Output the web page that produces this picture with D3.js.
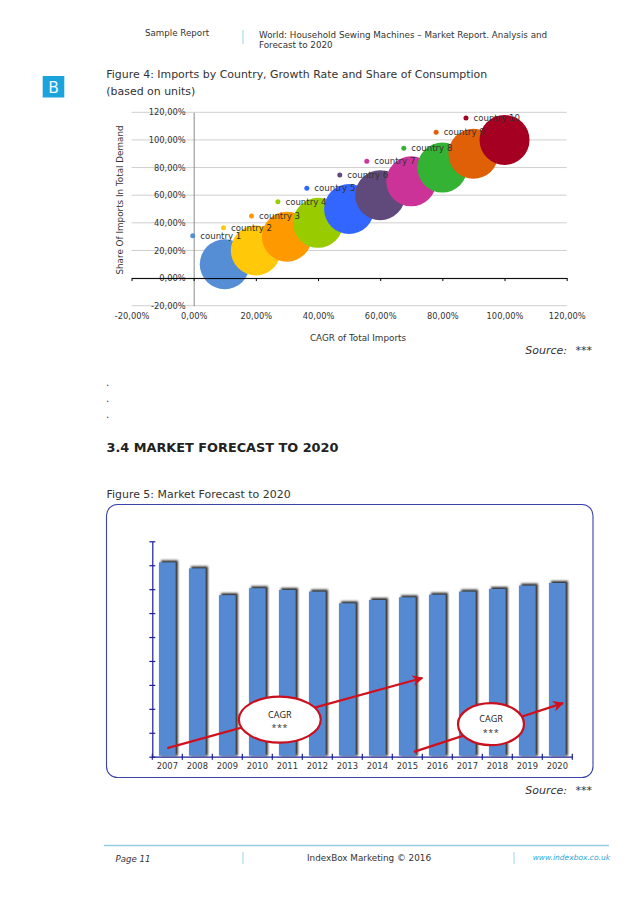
<!DOCTYPE html>
<html><head><meta charset="utf-8">
<script src="https://cdn.jsdelivr.net/npm/d3@7/dist/d3.min.js"></script>
<style>html,body{margin:0;background:#fff}svg{display:block}text{font-family:"DejaVu Sans",sans-serif;fill:#333}</style>
</head><body><svg id="c" width="638" height="903"></svg>
<script>
// Figure 4
const countries=["country 1","country 2","country 3","country 4","country 5","country 6","country 7","country 8","country 9","country 10"];
const cagr=[10,20,30,40,50,60,70,80,90,100];
const share=[10,20,30,40,50,60,70,80,90,100];
const colors=["#558ed5","#ffc90a","#ff9900","#99cc00","#3366ff","#604a7b","#cc3399","#33b233","#e06008","#a50021"];
const legendX=[-0.3,9.6,18.6,27.1,36.4,47,55.7,67.6,78,87.6];
const legendY=[30.6,36.4,45,55.2,65,74.7,84.6,94,105.5,115.8];
const xTicks=[-20,0,20,40,60,80,100,120];
const yTicks=[-20,0,20,40,60,80,100,120];
// Figure 5
const years=[2007,2008,2009,2010,2011,2012,2013,2014,2015,2016,2017,2018,2019,2020];
const volumes=[8.12,7.87,6.75,7.04,6.97,6.90,6.41,6.55,6.66,6.77,6.90,7.01,7.15,7.26];
const vTicks=[0,1,2,3,4,5,6,7,8,9];
const arrowYears=[[2007,2015.5],[2015.22,2020.19]];
const arrowVals=[[0.36,3.29],[0.2,2.24]];
const bubbleYears=[2010.75,2017.79];
const bubbleVals=[1.55,1.36];
const bubbleLabels=[["CAGR","***"],["CAGR","***"]];

const svg=d3.select("#c");
const defs=svg.append("defs");
const f=defs.append("filter").attr("id","sh").attr("x","-30%").attr("y","-5%").attr("width","170%").attr("height","110%");
f.append("feGaussianBlur").attr("stdDeviation",0.8);
defs.append("marker").attr("id","ah").attr("viewBox","0 0 10 10").attr("refX",9).attr("refY",5)
  .attr("markerWidth",5).attr("markerHeight",5).attr("orient","auto").attr("markerUnits","strokeWidth")
  .append("path").attr("d","M0,0L10,5L0,10L3,5Z").attr("fill","#d2101c");

function T(x,y,s,size,o={}){
  const t=svg.append("text").attr("x",x).attr("y",y).attr("font-size",size).text(s);
  if(o.anchor)t.attr("text-anchor",o.anchor);
  if(o.italic)t.attr("font-style","italic");
  if(o.bold)t.attr("font-weight","bold");
  if(o.fill)t.style("fill",o.fill);
  return t;
}
function V(x,y1,y2,c="#9fd3e4"){svg.append("line").attr("x1",x).attr("x2",x).attr("y1",y1).attr("y2",y2).attr("stroke",c);}

// page furniture
T(145,36,"Sample Report",8.7);
V(243,30,44);
T(259,38,"World: Household Sewing Machines – Market Report. Analysis and",8.75);
T(259,48,"Forecast to 2020",8.75);
svg.append("rect").attr("x",42.7).attr("y",76).attr("width",21.6).attr("height",21.5).attr("fill","#1ba3dd");
T(53.5,93.3,"B",15.5,{anchor:"middle",fill:"#eef9fd"});
T(106.3,78.3,"Figure 4: Imports by Country, Growth Rate and Share of Consumption",10.95);
T(106.3,95,"(based on units)",10.95);

// scatter
const x=d3.scaleLinear().domain([-20,120]).range([131.5,566.7]);
const y=d3.scaleLinear().domain([-20,120]).range([305.7,112.3]);
const fmt=v=>d3.format(".2f")(v).replace(".",",").replace("−","-")+"%";
const gy=svg.append("g").attr("transform",`translate(${x(0)},0)`)
  .call(d3.axisLeft(y).tickValues(yTicks).tickFormat(fmt).tickSize(0).tickPadding(8));
gy.selectAll("text").attr("font-size",8.3).style("font-family",'"DejaVu Sans"');
gy.select(".domain").attr("stroke","#8a8a8a");
svg.append("g").selectAll("line").data(yTicks).join("line")
  .attr("x1",x(-20)).attr("x2",x(120)).attr("y1",d=>y(d)).attr("y2",d=>y(d)).attr("stroke","#cfcfcf");
gy.raise();
svg.append("g").selectAll("circle").data(cagr).join("circle")
  .attr("cx",d=>x(d)).attr("cy",(d,i)=>y(share[i])).attr("r",25).attr("fill",(d,i)=>colors[i]);
const gx0=svg.append("g").attr("transform",`translate(0,${y(0)})`)
  .call(d3.axisBottom(x).tickValues(xTicks).tickFormat("").tickSize(3).tickSizeOuter(0));
gx0.selectAll("line,path").attr("stroke","#000");
const gx=svg.append("g").attr("transform",`translate(0,${y(-20)})`)
  .call(d3.axisBottom(x).tickValues(xTicks).tickFormat(fmt).tickSize(0).tickPadding(7));
gx.select(".domain").remove();
gx.selectAll("text").attr("font-size",8.3).style("font-family",'"DejaVu Sans"');
svg.append("g").selectAll("circle").data(legendX).join("circle")
  .attr("cx",d=>x(d)).attr("cy",(d,i)=>y(legendY[i])).attr("r",2.5).attr("fill",(d,i)=>colors[i]);
svg.append("g").selectAll("text").data(countries).join("text")
  .attr("x",(d,i)=>x(legendX[i])+7.5).attr("y",(d,i)=>y(legendY[i])+3).attr("font-size",8.6).text(d=>d);
T(358,341,"CAGR of Total Imports",8.8,{anchor:"middle"});
T(0,0,"Share Of Imports In Total Demand",8.8,{anchor:"middle"}).attr("transform","translate(123,200) rotate(-90)");
T(592,354,"Source: ***",11,{anchor:"end",italic:true}).attr("word-spacing",5);

// dots and heading
[386,402,418].forEach(v=>T(106,v,".",10));
T(106.5,452,"3.4 MARKET FORECAST TO 2020",12.85,{bold:true,fill:"#222"});
T(106.5,498,"Figure 5: Market Forecast to 2020",10.95);

// panel
svg.append("rect").attr("x",106.5).attr("y",504.5).attr("width",486.5).attr("height",273).attr("rx",11)
  .attr("fill","#fff").attr("stroke","#3b42a8").attr("stroke-width",1.1);

// bars
const bx=d3.scaleBand().domain(years).range([152.3,572.3]).paddingInner(0.44).paddingOuter(0.22);
const vy=d3.scaleLinear().domain([0,9]).range([756.7,541.3]);
const yearX=d3.scaleLinear().domain([2007,2020]).range([bx(2007)+bx.bandwidth()/2,bx(2020)+bx.bandwidth()/2]);
svg.append("g").selectAll("rect").data(years).join("rect")
  .attr("x",d=>bx(d)+2.2).attr("y",(d,i)=>vy(volumes[i])-2).attr("width",bx.bandwidth())
  .attr("height",(d,i)=>vy(0)-vy(volumes[i])+1).attr("fill","#2f2f2f").attr("filter","url(#sh)");
svg.append("g").selectAll("rect").data(years).join("rect")
  .attr("x",d=>bx(d)).attr("y",(d,i)=>vy(volumes[i])).attr("width",bx.bandwidth())
  .attr("height",(d,i)=>vy(0)-vy(volumes[i])-1).attr("fill","#558ad2");
const ax=svg.append("g").attr("transform","translate(152.3,0)")
  .call(d3.axisLeft(vy).tickValues(vTicks).tickFormat("").tickSize(0));
ax.select(".domain").attr("stroke","#1a1f96").attr("stroke-width",1.2);
ax.selectAll(".tick line").attr("x1",-3).attr("x2",3).attr("stroke","#1a1f96").attr("stroke-width",1.2);
const ay=svg.append("g").attr("transform",`translate(0,${vy(0)})`)
  .call(d3.axisBottom(bx).tickSize(0).tickPadding(6));
ay.select(".domain").attr("stroke","#1a1f96").attr("stroke-width",1.2);
ay.selectAll("text").attr("font-size",8.4).style("font-family",'"DejaVu Sans"');
svg.append("g").selectAll("line").data(d3.range(years.length+1)).join("line")
  .attr("x1",d=>152.3+d*bx.step()).attr("x2",d=>152.3+d*bx.step())
  .attr("y1",vy(0)-3).attr("y2",vy(0)+3).attr("stroke","#1a1f96").attr("stroke-width",1.2);

// CAGR arrows
svg.append("g").selectAll("line").data(arrowYears).join("line")
  .attr("x1",d=>yearX(d[0])).attr("x2",d=>yearX(d[1]))
  .attr("y1",(d,i)=>vy(arrowVals[i][0])).attr("y2",(d,i)=>vy(arrowVals[i][1]))
  .attr("stroke","#d2101c").attr("stroke-width",2.2).attr("marker-end","url(#ah)");
const rx=[41,33],ry=[23,21];
svg.append("g").selectAll("ellipse").data(bubbleYears).join("ellipse")
  .attr("cx",d=>yearX(d)).attr("cy",(d,i)=>vy(bubbleVals[i])).attr("rx",(d,i)=>rx[i]).attr("ry",(d,i)=>ry[i])
  .attr("fill","#fff").attr("stroke","#c8101e").attr("stroke-width",2.2);
bubbleYears.forEach((d,i)=>{
  T(yearX(d),vy(bubbleVals[i])-2,bubbleLabels[i][0],9,{anchor:"middle",fill:"#222"}).style("font-family",'"Open Sans"');
  T(yearX(d),vy(bubbleVals[i])+11.4,bubbleLabels[i][1],9,{anchor:"middle"}).style("font-family",'"Open Sans"').attr("letter-spacing",0.5);
});
T(592,794,"Source: ***",11,{anchor:"end",italic:true}).attr("word-spacing",5);

// footer
svg.append("line").attr("x1",104).attr("x2",609).attr("y1",845.5).attr("y2",845.5).attr("stroke","#8fd0e2").attr("stroke-width",1.3);
V(243,852,864);V(514,852,864);
T(115.5,862,"Page 11",8.6,{italic:true});
T(369,861,"IndexBox Marketing © 2016",8.8,{anchor:"middle"});
T(610,860,"www.indexbox.co.uk",7.5,{anchor:"end",italic:true,fill:"#2aa7d6"});
</script></body></html>
